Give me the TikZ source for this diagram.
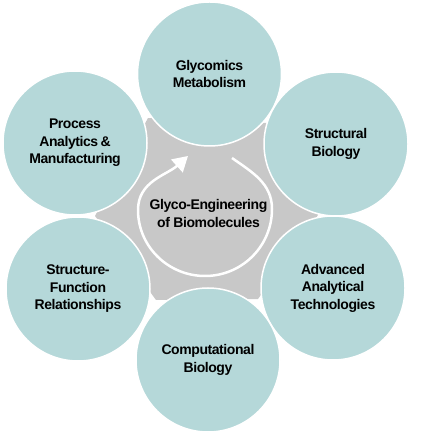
\documentclass[tikz,border=0pt]{standalone}
\usepackage{fontspec}
\setmainfont{Liberation Sans}[LetterSpace=-3]
\usetikzlibrary{arrows.meta}
\definecolor{topicfill}{RGB}{181,216,217}
\definecolor{hubgray}{RGB}{200,200,200}

\begin{document}
\begin{tikzpicture}[x=1pt,y=1pt,
  every node/.style={align=center,font=\bfseries\fontsize{14}{17.5}\selectfont},
  topic/.style={circle,fill=topicfill,draw=white,line width=1.5pt,minimum size=144pt,inner sep=0pt}]
  \useasboundingbox (0,0) rectangle (446,433);
  \fill[hubgray] (95,217) -- (148,315) -- (267,310) -- (318,218) -- (258,134) -- (156,133) -- cycle;
  \node[topic] (GM) at (209.5,359) {Glycomics\\Metabolism};
  \node[topic] (SB) at (336,289) {Structural\\Biology};
  \node[topic] (AAT) at (333,145) {Advanced\\Analytical\\Technologies};
  \node[topic] (CB) at (208,73) {Computational\\Biology};
  \node[topic] (SFR) at (78,144) {Structure-\\Function\\Relationships};
  \node[topic] (PAM) at (75,290) {Process\\Analytics\,\&\\Manufacturing};
  \node (GE) at (208.5,219.5) {Glyco-Engineering\\of Biomolecules};
  \coordinate (ringS) at (232,275);
  \coordinate (ringR) at (272,224);
  \coordinate (ringB) at (205,157);
  \coordinate (ringL) at (138,223);
  \coordinate (ringT) at (188,277);
  \draw[white,line width=2.5pt,-{Triangle[length=15pt,width=17pt]}] (ringS) to[out=-35,in=90] (ringR)
    to[out=-90,in=0] (ringB) to[out=180,in=-90] (ringL) to[out=90,in=222] (ringT);
\end{tikzpicture}
\end{document}
